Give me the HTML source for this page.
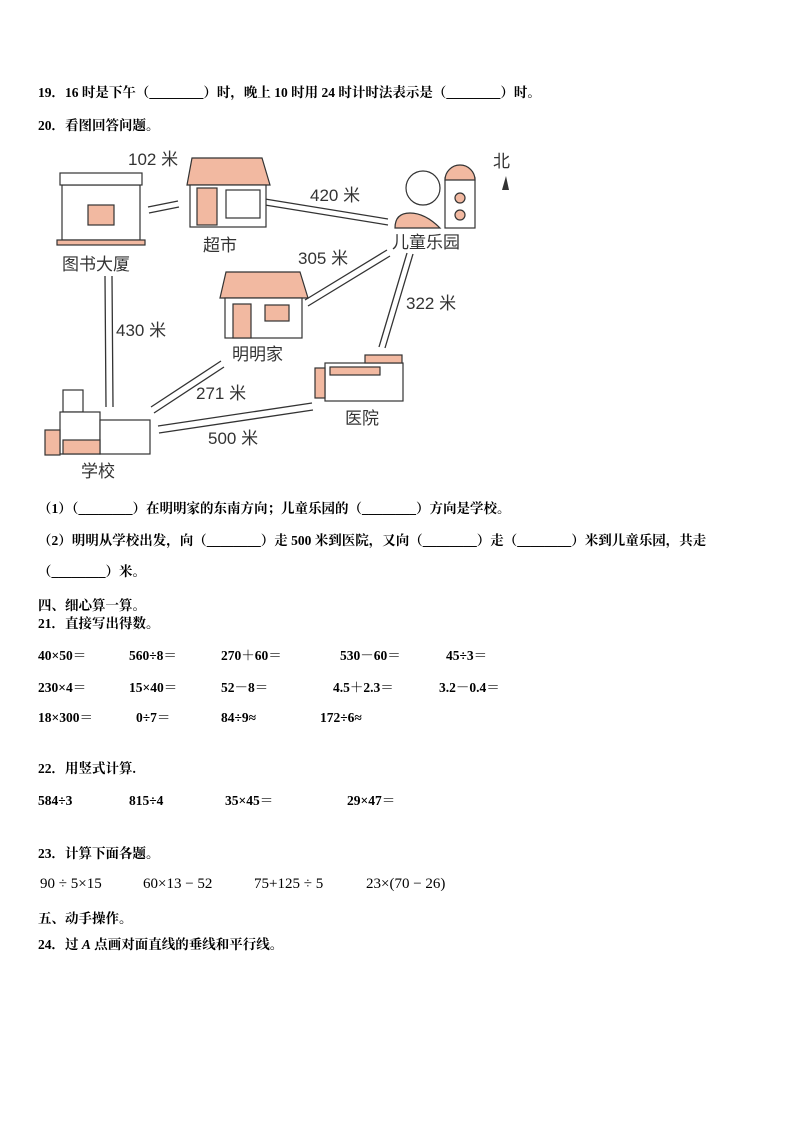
<!DOCTYPE html>
<html><head><meta charset="utf-8"><style>
body{margin:0;background:#fff;}
.p{position:relative;width:794px;height:1123px;font-family:"Liberation Serif","Noto Serif CJK SC",serif;color:#000;}
.t{position:absolute;font-size:13.5px;font-weight:bold;white-space:pre;line-height:14px;margin-top:2px;}
.c{font-size:13.5px;}
.m{position:absolute;font-size:15px;font-family:"Liberation Serif","Noto Serif CJK SC",serif;white-space:pre;}
svg text{font-family:"Liberation Sans","Noto Sans CJK SC",sans-serif;fill:#333;}
</style></head><body><div class="p">
<div class="t c" style="left:38px;top:84px">19．16 时是下午（________）时，晚上 10 时用 24 时计时法表示是（________）时。</div>
<div class="t c" style="left:38px;top:117px">20．看图回答问题。</div>
<svg style="position:absolute;left:0;top:0" width="794" height="500">
<g stroke="#333" stroke-width="1.3" fill="none">
<path d="M148,207L178,201M149,213L179,207"/>
<path d="M265,199L388,219M265,205L388,225"/>
<path d="M387,250L305,300M390,256L308,306"/>
<path d="M407,253L379,347M413,254L385,348"/>
<path d="M105,276L106,407M112,276L113,407"/>
<path d="M151,407L221,361M154,413L224,367"/>
<path d="M158,426L312,403M159,433L313,410"/>
</g>
<g stroke="#333" stroke-width="1.2">
<rect x="62" y="185" width="78" height="55" fill="#fff"/>
<rect x="60" y="173" width="82" height="12" fill="#fff"/>
<rect x="88" y="205" width="26" height="20" fill="#f2b9a1"/>
<rect x="57" y="240" width="88" height="5" fill="#f2b9a1"/>
<path d="M192,158H262L270,185H187Z" fill="#f2b9a1"/>
<rect x="190" y="185" width="76" height="42" fill="#fff"/>
<rect x="197" y="188" width="20" height="37" fill="#f2b9a1"/>
<rect x="226" y="190" width="34" height="28" fill="#fff"/>
<circle cx="423" cy="188" r="17" fill="none"/>
<rect x="445" y="178" width="30" height="50" fill="#fff"/>
<path d="M445,180a15,15 0 0 1 30,0Z" fill="#f2b9a1"/>
<circle cx="460" cy="198" r="5" fill="#f2b9a1"/><circle cx="460" cy="215" r="5" fill="#f2b9a1"/>
<path d="M395,228q0-15 15-15q15 0 30 15Z" fill="#f2b9a1"/>
<path d="M226,272H300L308,298H220Z" fill="#f2b9a1"/>
<rect x="225" y="298" width="77" height="40" fill="#fff"/>
<rect x="233" y="304" width="18" height="34" fill="#f2b9a1"/>
<rect x="265" y="305" width="24" height="16" fill="#f2b9a1"/>
<rect x="325" y="363" width="78" height="38" fill="#fff"/>
<rect x="330" y="367" width="50" height="8" fill="#f2b9a1"/>
<rect x="365" y="355" width="37" height="8" fill="#f2b9a1"/>
<rect x="315" y="368" width="10" height="30" fill="#f2b9a1"/>
<rect x="63" y="390" width="20" height="22" fill="#fff"/>
<rect x="60" y="412" width="40" height="42" fill="#fff"/>
<rect x="100" y="420" width="50" height="34" fill="#fff"/>
<rect x="45" y="430" width="15" height="25" fill="#f2b9a1"/>
<rect x="63" y="440" width="37" height="14" fill="#f2b9a1"/>
</g>
<path d="M502,190L506,176L509,190Z" fill="#333"/>
<g font-size="17">
<text x="128" y="165">102 米</text><text x="310" y="201">420 米</text>
<text x="298" y="264">305 米</text><text x="406" y="309">322 米</text>
<text x="116" y="336">430 米</text><text x="196" y="399">271 米</text>
<text x="208" y="444">500 米</text>
<text x="493" y="167">北</text>
<text x="62" y="270">图书大厦</text><text x="203" y="251">超市</text>
<text x="392" y="248">儿童乐园</text><text x="232" y="360">明明家</text>
<text x="345" y="424">医院</text><text x="81" y="477">学校</text>
</g></svg>
<div class="t c" style="left:38px;top:500px">（1）（________）在明明家的东南方向；儿童乐园的（________）方向是学校。</div>
<div class="t c" style="left:38px;top:532px">（2）明明从学校出发，向（________）走 500 米到医院，又向（________）走（________）米到儿童乐园，共走</div>
<div class="t c" style="left:38px;top:563px">（________）米。</div>
<div class="t c" style="left:38px;top:597px">四、细心算一算。</div>
<div class="t c" style="left:38px;top:615px">21．直接写出得数。</div>
<div class="t" style="left:38px;top:647px">40×50＝</div><div class="t" style="left:129px;top:647px">560÷8＝</div><div class="t" style="left:221px;top:647px">270＋60＝</div><div class="t" style="left:340px;top:647px">530－60＝</div><div class="t" style="left:446px;top:647px">45÷3＝</div>
<div class="t" style="left:38px;top:679px">230×4＝</div><div class="t" style="left:129px;top:679px">15×40＝</div><div class="t" style="left:221px;top:679px">52－8＝</div><div class="t" style="left:333px;top:679px">4.5＋2.3＝</div><div class="t" style="left:439px;top:679px">3.2－0.4＝</div>
<div class="t" style="left:38px;top:709px">18×300＝</div><div class="t" style="left:136px;top:709px">0÷7＝</div><div class="t" style="left:221px;top:709px">84÷9≈</div><div class="t" style="left:320px;top:709px">172÷6≈</div>
<div class="t c" style="left:38px;top:760px">22．用竖式计算.</div>
<div class="t" style="left:38px;top:792px">584÷3</div><div class="t" style="left:129px;top:792px">815÷4</div><div class="t" style="left:225px;top:792px">35×45＝</div><div class="t" style="left:347px;top:792px">29×47＝</div>
<div class="t c" style="left:38px;top:845px">23．计算下面各题。</div>
<div class="m" style="left:40px;top:876px">90 ÷ 5×15</div><div class="m" style="left:143px;top:876px">60×13 − 52</div><div class="m" style="left:254px;top:876px">75+125 ÷ 5</div><div class="m" style="left:366px;top:876px">23×(70 − 26)</div>
<div class="t c" style="left:38px;top:910px">五、动手操作。</div>
<div class="t c" style="left:38px;top:936px">24．过 <i>A</i> 点画对面直线的垂线和平行线。</div>
</div></body></html>
